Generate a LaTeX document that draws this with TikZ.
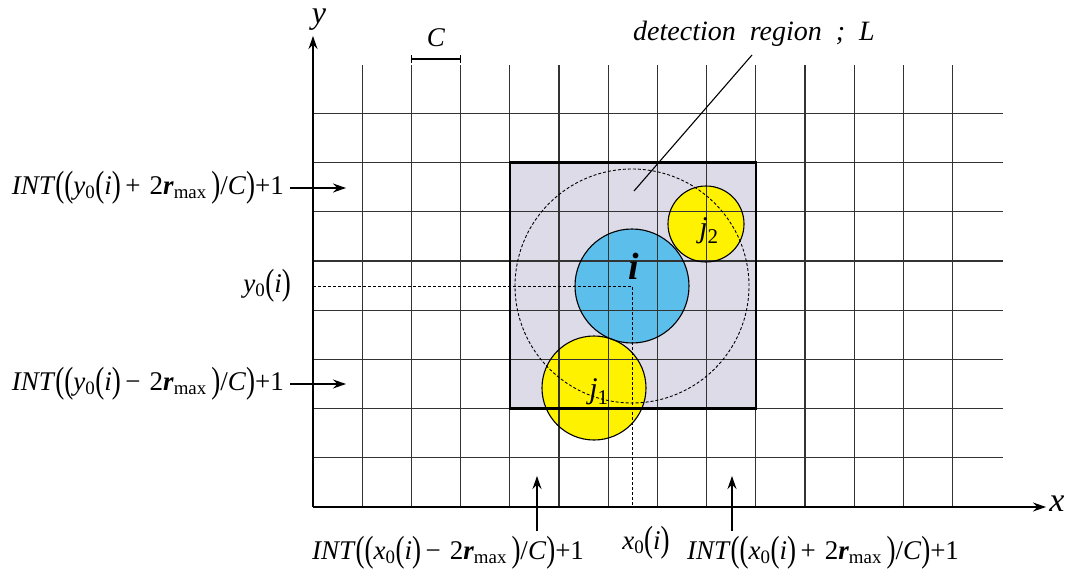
\documentclass[tikz,border=0pt]{standalone}
\usepackage{fontspec}
\setmainfont{Liberation Serif}
\usetikzlibrary{arrows.meta}
\definecolor{regionfill}{RGB}{222,219,232}
\definecolor{iblue}{RGB}{92,190,235}
\definecolor{jyellow}{RGB}{255,242,0}
\newcommand{\bpar}[1]{\raisebox{-0.08em}{\scalebox{1}[1.35]{#1}}}
\newcommand{\intlabel}[2]{\textit{INT}\bpar{(}\bpar{(}\textit{#1}\textsubscript{0}\bpar{(}\textit{i}\bpar{)}#2\,2\textbf{\textit{r}}\textsubscript{max}\,\bpar{)}/\textit{C}\bpar{)}+1}
\begin{document}
\begin{tikzpicture}[x=1pt,y=-1pt,
  gridline/.style={draw=black!80,line width=1.1pt},
  axis/.style={draw=black,line width=1.2pt,-{Stealth[length=13pt,width=9pt]}},
  lab/.style={font=\fontsize{27}{30}\selectfont,inner sep=0pt},
  pointer/.style={draw=black,line width=1.1pt,-{Stealth[length=13pt,width=9pt]}},
  guide/.style={draw=black,line width=0.8pt,dash pattern=on 3pt off 2pt},
  ballline/.style={draw=black,line width=1.1pt}]
\useasboundingbox (0,0) rectangle (1069,573);
\fill[white] (0,0) rectangle (1069,573);
% fills
\fill[regionfill] (509.8,162.6) rectangle (755.8,408.6);
\fill[iblue] (632,286) circle (57pt);
\fill[jyellow] (706,224) circle (38pt);
\fill[jyellow] (594,388) circle (52pt);
% grid
\foreach \k in {1,...,13} {
  \draw[gridline] ({313+49.2*\k},65) -- ({313+49.2*\k},507);
}
\foreach \k in {1,...,8} {
  \draw[gridline] (313,{507-49.2*\k}) -- (1003,{507-49.2*\k});
}
% axes
\coordinate (orig) at (313,507);
\coordinate (xend) at (1046,507);
\coordinate (yend) at (313,36);
\draw[axis] (orig) -- (xend);
\draw[axis] (orig) -- (yend);
\node[lab,font=\fontsize{34}{36}\selectfont\itshape] (xlab) at (1057,504) {x};
\node[lab,font=\fontsize{32}{34}\selectfont\itshape] (ylab) at (319,20) {y};
% cell size bracket
\coordinate (ca) at (411.4,59);
\coordinate (cb) at (460.6,59);
\draw[line width=1.1pt] ([yshift=-4pt]ca) -- ([yshift=4pt]ca) (ca) -- (cb) ([yshift=-4pt]cb) -- ([yshift=4pt]cb);
\node[lab,font=\fontsize{27}{29}\selectfont\itshape] (clab) at (436,38) {C};
% dashed detection circle and guides
\draw[guide,line width=0.9pt] (632,286) circle (117pt);
\coordinate (ic) at (632,286);
\coordinate (yax) at (313,286);
\coordinate (xax) at (632,507);
\draw[guide] (yax) -- (ic) -- (xax);
% region border
\draw[line width=2.6pt] (509.8,162.6) rectangle (755.8,408.6);
% balls outlines
\draw[ballline] (632,286) circle (57pt);
\draw[ballline] (706,224) circle (38pt);
\draw[ballline] (594,388) circle (52pt);
\node[lab,font=\fontsize{38}{40}\selectfont\bfseries\itshape] (ilab) at (634,266) {i};
\node[lab,font=\fontsize{30}{32}\selectfont] (j2lab) at (709,231) {\textit{j}\textsubscript{2}};
\node[lab,font=\fontsize{30}{32}\selectfont] (j1lab) at (599,392) {\textit{j}\textsubscript{1}};
% detection region label
\node[lab,font=\fontsize{28}{30}\selectfont\itshape] (det) at (754,34) {detection\ \ region\ \ ;\ \ L};
\coordinate (dtip) at (752,55);
\coordinate (dend) at (634,191);
\draw[line width=1.1pt] (dtip) -- (dend);
% left labels
\node[lab,anchor=east] (ytop) at (284,188) {\intlabel{y}{\,+\,}};
\node[lab,anchor=east] (ybot) at (284,384) {\intlabel{y}{\,−\,}};
\node[lab,anchor=east] (y0) at (291,286) {\textit{y}\textsubscript{0}\bpar{(}\textit{i}\bpar{)}};
\coordinate (yt1) at (290,188);
\coordinate (yt2) at (346,188);
\coordinate (yb1) at (290,384);
\coordinate (yb2) at (346,384);
\draw[pointer] (yt1) -- (yt2);
\draw[pointer] (yb1) -- (yb2);
% bottom labels
\node[lab] (xleft) at (448,553) {\intlabel{x}{\,−\,}};
\node[lab] (xright) at (823,553) {\intlabel{x}{\,+\,}};
\node[lab] (x0) at (646,543) {\textit{x}\textsubscript{0}\bpar{(}\textit{i}\bpar{)}};
\coordinate (xl1) at (537,531);
\coordinate (xl2) at (537,476);
\coordinate (xr1) at (732,531);
\coordinate (xr2) at (732,476);
\draw[pointer] (xl1) -- (xl2);
\draw[pointer] (xr1) -- (xr2);
\end{tikzpicture}
\end{document}
